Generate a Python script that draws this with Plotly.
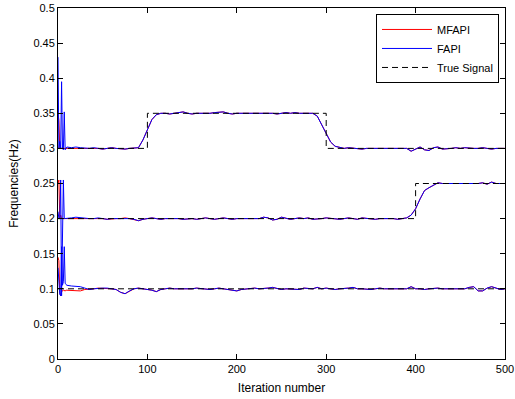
import plotly.graph_objects as go

# ---------------- data ----------------
# iteration grid: every iteration for the start-up transient, then every 5
iters = [0, 1, 2, 3, 4, 5, 6, 7, 8, 9, 10] + list(range(15, 505, 5))

# FAPI estimates (blue)
fapi_f1 = [0.430, 0.300, 0.310, 0.300, 0.395, 0.300, 0.298, 0.352, 0.298, 0.300, 0.302,
           0.301, 0.302, 0.301, 0.300, 0.300, 0.301, 0.300, 0.299, 0.300, 0.301,
           0.300, 0.299, 0.299, 0.300, 0.300, 0.301, 0.312, 0.327, 0.341, 0.348,
           0.350, 0.350, 0.349, 0.350, 0.351, 0.352, 0.350, 0.349, 0.350, 0.350,
           0.349, 0.350, 0.351, 0.352, 0.352, 0.350, 0.349, 0.350, 0.350, 0.351,
           0.350, 0.350, 0.351, 0.350, 0.350, 0.350, 0.349, 0.350, 0.351, 0.350,
           0.351, 0.350, 0.350, 0.351, 0.350, 0.346, 0.334, 0.320, 0.309, 0.303,
           0.301, 0.300, 0.301, 0.300, 0.300, 0.299, 0.300, 0.300, 0.300, 0.300,
           0.301, 0.300, 0.300, 0.300, 0.301, 0.300, 0.296, 0.299, 0.302, 0.298,
           0.297, 0.301, 0.302, 0.299, 0.299, 0.300, 0.301, 0.300, 0.301, 0.300,
           0.300, 0.300, 0.301, 0.300, 0.299, 0.300, 0.300, 0.300]
fapi_f2 = [0.210, 0.200, 0.200, 0.255, 0.090, 0.200, 0.255, 0.200, 0.200, 0.201, 0.200,
           0.201, 0.202, 0.201, 0.200, 0.200, 0.200, 0.201, 0.200, 0.199, 0.200,
           0.200, 0.200, 0.201, 0.200, 0.199, 0.197, 0.199, 0.200, 0.201, 0.200,
           0.199, 0.200, 0.200, 0.201, 0.200, 0.199, 0.200, 0.200, 0.199, 0.200,
           0.201, 0.200, 0.199, 0.200, 0.201, 0.200, 0.199, 0.200, 0.200, 0.199,
           0.199, 0.200, 0.200, 0.202, 0.201, 0.198, 0.199, 0.202, 0.201, 0.199,
           0.200, 0.201, 0.200, 0.201, 0.199, 0.199, 0.200, 0.201, 0.200, 0.200,
           0.199, 0.200, 0.201, 0.200, 0.199, 0.201, 0.200, 0.200, 0.199, 0.200,
           0.200, 0.201, 0.200, 0.199, 0.200, 0.201, 0.205, 0.214, 0.228, 0.240,
           0.244, 0.247, 0.251, 0.250, 0.250, 0.249, 0.250, 0.250, 0.250, 0.249,
           0.250, 0.250, 0.251, 0.249, 0.252, 0.250, 0.250, 0.250]
fapi_f3 = [0.130, 0.100, 0.092, 0.090, 0.160, 0.105, 0.110, 0.160, 0.108, 0.106, 0.105,
           0.104, 0.104, 0.103, 0.101, 0.099, 0.100, 0.101, 0.101, 0.101, 0.100,
           0.099, 0.095, 0.093, 0.097, 0.100, 0.101, 0.100, 0.100, 0.098, 0.096,
           0.099, 0.100, 0.101, 0.100, 0.100, 0.100, 0.099, 0.100, 0.101, 0.100,
           0.100, 0.099, 0.100, 0.101, 0.100, 0.099, 0.097, 0.097, 0.099, 0.100,
           0.100, 0.101, 0.100, 0.100, 0.101, 0.102, 0.100, 0.099, 0.100, 0.100,
           0.100, 0.099, 0.101, 0.100, 0.100, 0.102, 0.100, 0.101, 0.100, 0.099,
           0.100, 0.100, 0.101, 0.102, 0.100, 0.100, 0.099, 0.099, 0.100, 0.101,
           0.100, 0.100, 0.100, 0.101, 0.101, 0.100, 0.103, 0.100, 0.100, 0.099,
           0.100, 0.101, 0.101, 0.100, 0.100, 0.099, 0.100, 0.100, 0.100, 0.102,
           0.103, 0.097, 0.097, 0.101, 0.103, 0.101, 0.099, 0.100]

# MFAPI estimates (red): own start-up values (iterations 0..30),
# afterwards they coincide with the FAPI curve
mfapi_f1_head = [0.350, 0.340, 0.300, 0.300, 0.300, 0.300, 0.300, 0.300, 0.300, 0.300, 0.300,
                 0.300, 0.301, 0.301, 0.300]
mfapi_f2_head = [0.250, 0.255, 0.200, 0.205, 0.200, 0.200, 0.201, 0.200, 0.200, 0.200, 0.200,
                 0.200, 0.201, 0.201, 0.200]
mfapi_f3_head = [0.145, 0.140, 0.095, 0.090, 0.095, 0.098, 0.098, 0.097, 0.097, 0.098, 0.098,
                 0.098, 0.097, 0.097, 0.099]
n_head = len(mfapi_f1_head)
mfapi_f1 = mfapi_f1_head + fapi_f1[n_head:]
mfapi_f2 = mfapi_f2_head + fapi_f2[n_head:]
mfapi_f3 = mfapi_f3_head + fapi_f3[n_head:]

# true frequencies (piecewise constant)
true_x1 = [0, 100, 100, 300, 300, 500]
true_f1 = [0.30, 0.30, 0.35, 0.35, 0.30, 0.30]
true_x2 = [0, 400, 400, 500]
true_f2 = [0.20, 0.20, 0.25, 0.25]
true_x3 = [0, 500]
true_f3 = [0.10, 0.10]

y_ticks = [0, 0.05, 0.1, 0.15, 0.2, 0.25, 0.3, 0.35, 0.4, 0.45, 0.5]
y_labels = ["0", "0.05", "0.1", "0.15", "0.2", "0.25", "0.3", "0.35", "0.4", "0.45", "0.5"]
x_ticks = [0, 100, 200, 300, 400, 500]

# ---------------- figure ----------------
fig = go.Figure()

for i, ys in enumerate([mfapi_f1, mfapi_f2, mfapi_f3]):
    fig.add_trace(go.Scatter(x=iters, y=ys, mode="lines", name="MFAPI",
                             legendgroup="m", showlegend=(i == 0),
                             line=dict(color="#ff0000", width=1)))
for i, ys in enumerate([fapi_f1, fapi_f2, fapi_f3]):
    fig.add_trace(go.Scatter(x=iters, y=ys, mode="lines", name="FAPI",
                             legendgroup="f", showlegend=(i == 0),
                             line=dict(color="#0000ff", width=1)))
for i, (xs, ys) in enumerate([(true_x1, true_f1), (true_x2, true_f2), (true_x3, true_f3)]):
    fig.add_trace(go.Scatter(x=xs, y=ys, mode="lines", name="True Signal",
                             legendgroup="t", showlegend=(i == 0),
                             line=dict(color="#000000", width=1, dash="6px,4px")))

axis_common = dict(showgrid=False, zeroline=False, showline=True, linecolor="black",
                   linewidth=1, mirror="ticks", ticks="inside", ticklen=5,
                   tickcolor="black", tickfont=dict(size=11, color="black"))

fig.update_xaxes(range=[0, 500], tickvals=x_ticks,
                 title=dict(text="Iteration number", font=dict(size=12, color="black"),
                            standoff=9),
                 **axis_common)
fig.update_yaxes(range=[0, 0.5], tickvals=y_ticks, ticktext=y_labels,
                 title=dict(text="Frequencies(Hz)", font=dict(size=12, color="black"),
                            standoff=12),
                 **axis_common)

fig.update_layout(
    width=515, height=399,
    margin=dict(l=58, r=10, t=8, b=40, autoexpand=False),
    paper_bgcolor="white", plot_bgcolor="white",
    font=dict(family="Liberation Sans, Arial, sans-serif", size=11, color="black"),
    showlegend=True,
    legend=dict(x=0.9866, y=0.983, xanchor="right", yanchor="top",
                bgcolor="white", bordercolor="black", borderwidth=1,
                font=dict(size=11), tracegroupgap=0, itemwidth=50),
)

fig.write_html("out.html", post_script="document.body.style.margin='0';",
               config={"displayModeBar": False})
